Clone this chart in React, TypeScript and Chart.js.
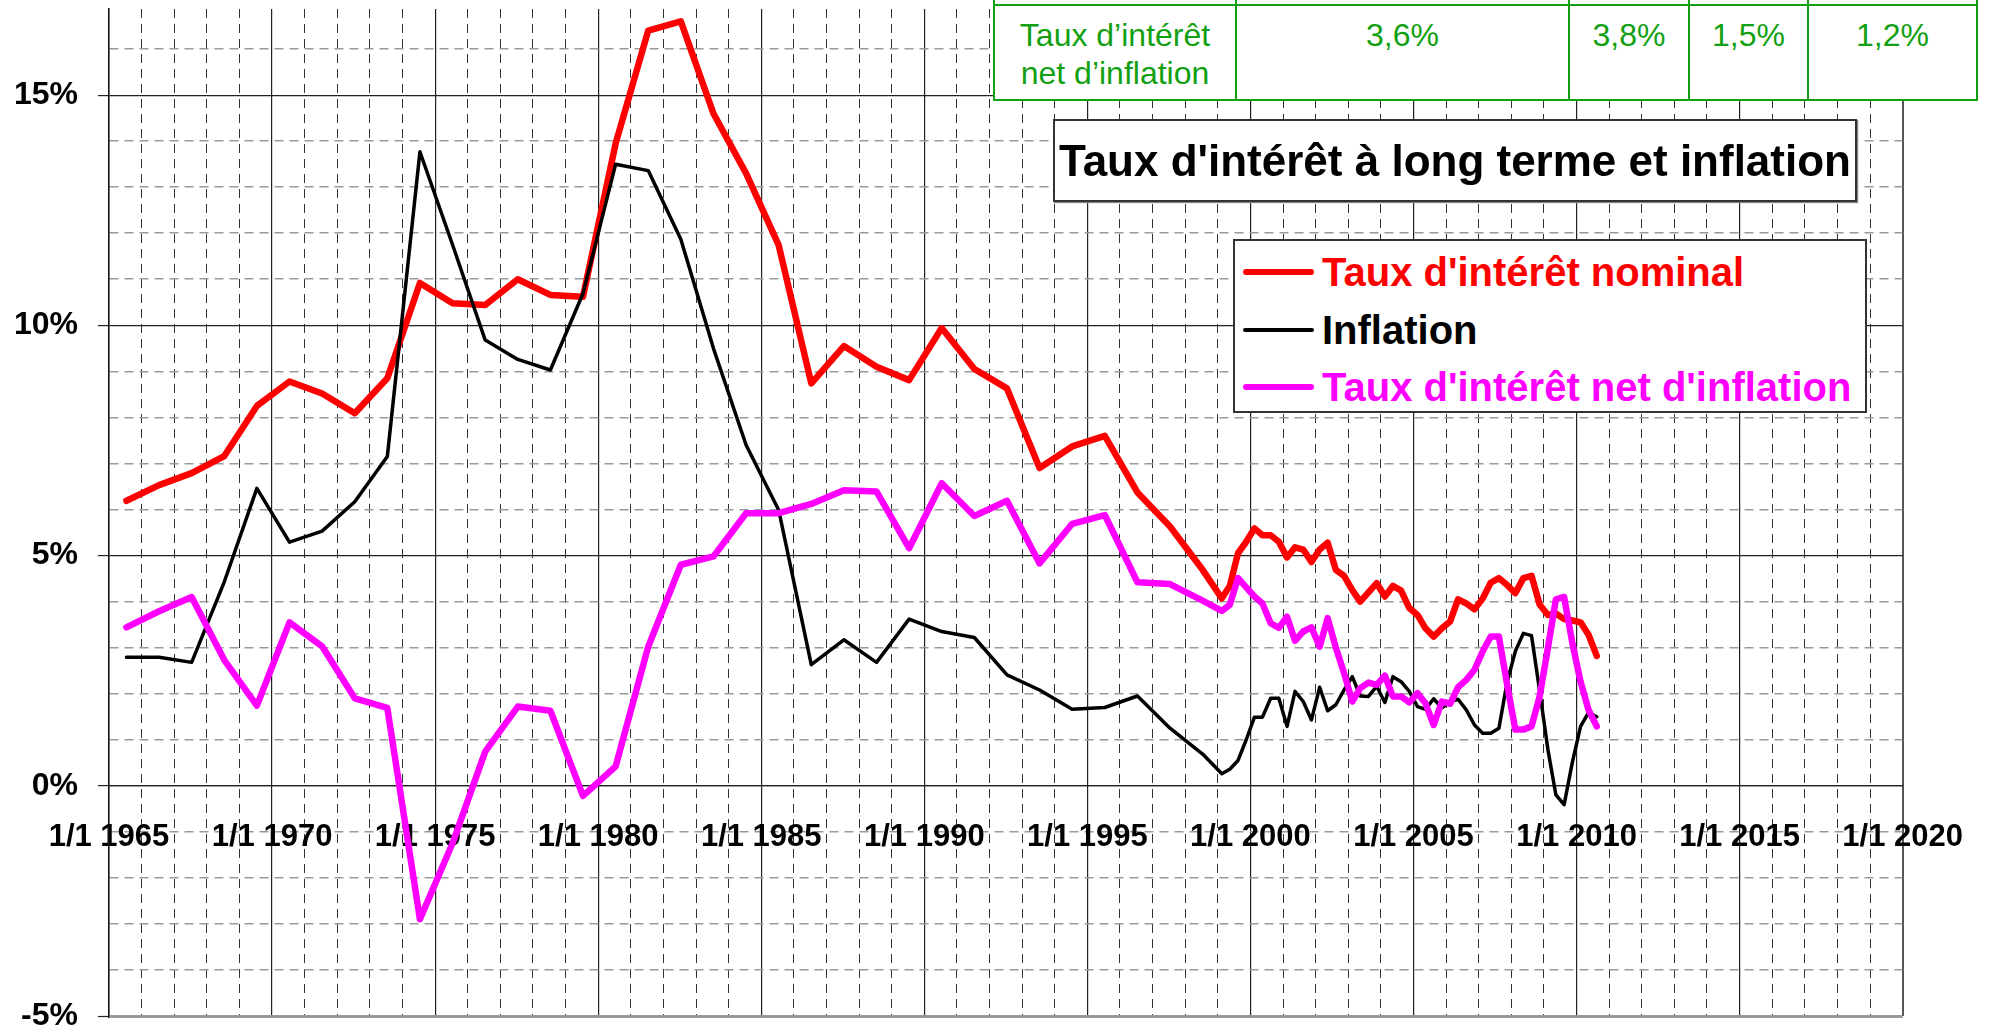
import React, { useEffect, useRef } from 'react';
import { Chart, registerables } from 'chart.js';

Chart.register(...registerables);

// ---- Data ----
const annualYears = [
  1965, 1966, 1967, 1968, 1969, 1970, 1971, 1972, 1973, 1974,
  1975, 1976, 1977, 1978, 1979, 1980, 1981, 1982, 1983, 1984,
  1985, 1986, 1987, 1988, 1989, 1990, 1991, 1992, 1993, 1994,
  1995, 1996, 1997, 1998,
];
const quarterYears = [1999, 2000, 2001, 2002, 2003, 2004, 2005, 2006, 2007, 2008, 2009, 2010];
const quarterMonths = [2, 5, 8, 11]; // mid-quarter points (15th of the month)

const nominalAnnual = [
  6.19, 6.53, 6.79, 7.16, 8.25, 8.78, 8.52, 8.09, 8.85, 10.92,
  10.48, 10.44, 11.0, 10.66, 10.62, 13.95, 16.4, 16.6, 14.6, 13.3,
  11.74, 8.74, 9.55, 9.1, 8.81, 9.94, 9.05, 8.63, 6.9, 7.37,
  7.6, 6.37, 5.63, 4.69,
];
const inflationAnnual = [
  2.79, 2.79, 2.68, 4.43, 6.46, 5.29, 5.53, 6.17, 7.15, 13.77,
  11.75, 9.68, 9.26, 9.03, 10.69, 13.5, 13.36, 11.87, 9.5, 7.4,
  5.99, 2.63, 3.17, 2.68, 3.62, 3.35, 3.22, 2.41, 2.08, 1.66,
  1.7, 1.95, 1.25, 0.69,
];
const netAnnual = [
  3.44, 3.79, 4.1, 2.73, 1.74, 3.55, 3.03, 1.9, 1.69, -2.9,
  -1.25, 0.74, 1.72, 1.63, -0.22, 0.42, 3.02, 4.8, 4.98, 5.92,
  5.92, 6.12, 6.42, 6.39, 5.16, 6.57, 5.86, 6.19, 4.83, 5.69,
  5.88, 4.42, 4.38, 4.02,
];

const nominalQuarterly = [
  4.07, 4.34, 5.05, 5.3,
  5.59, 5.44, 5.44, 5.3,
  4.96, 5.18, 5.13, 4.86,
  5.13, 5.28, 4.69, 4.56,
  4.25, 4.0, 4.2, 4.4,
  4.11, 4.34, 4.24, 3.86,
  3.71, 3.42, 3.24, 3.42,
  3.57, 4.05, 3.96, 3.83,
  4.07, 4.41, 4.51, 4.36,
  4.18, 4.51, 4.56, 3.93,
  3.71, 3.74, 3.62, 3.59,
  3.55, 3.28, 2.82,
];
const inflationQuarterly = [
  0.26, 0.36, 0.55, 1.0,
  1.49, 1.49, 1.9, 1.9,
  1.29, 2.05, 1.83, 1.43,
  2.14, 1.63, 1.76, 2.08,
  2.37, 1.95, 1.94, 2.16,
  1.81, 2.37, 2.26, 2.05,
  1.72, 1.66, 1.89, 1.69,
  1.83, 1.88, 1.65, 1.32,
  1.14, 1.14, 1.25, 2.25,
  2.92, 3.31, 3.26, 2.05,
  0.78, -0.2, -0.41, 0.51,
  1.29, 1.59, 1.5,
];
const netQuarterly = [
  3.8, 3.93, 4.51, 4.31,
  4.11, 3.96, 3.53, 3.43,
  3.67, 3.15, 3.35, 3.44,
  3.02, 3.64, 3.0, 2.45,
  1.83, 2.12, 2.24, 2.19,
  2.39, 1.94, 1.94, 1.81,
  2.01, 1.79, 1.32, 1.83,
  1.78, 2.14, 2.3, 2.52,
  2.92, 3.24, 3.24, 2.2,
  1.22, 1.22, 1.29, 1.95,
  3.0, 4.05, 4.1, 3.1,
  2.26, 1.65, 1.29,
];

const xMin = 1965;
const xMax = 2020;
const yMin = -5;
const yMax = 16.87;

const chartTitle = "Taux d'intérêt à long terme et inflation";
const seriesNames = ["Taux d'intérêt nominal", 'Inflation', "Taux d'intérêt net d'inflation"];
const seriesColors = ['#ff0000', '#000000', '#ff00ff'];
const tableLabelLines = ['Taux d’intérêt', 'net d’inflation'];
const tableValues = ['3,6%', '3,8%', '1,5%', '1,2%'];

// ---- helpers ----
const decYear = (y: number, m: number, d: number) => {
  const s = Date.UTC(y, 0, 1);
  const e = Date.UTC(y + 1, 0, 1);
  return y + (Date.UTC(y, m - 1, d) - s) / (e - s);
};
const annualX = annualYears.map((y) => decYear(y, 7, 15));
const quarterX: number[] = [];
quarterYears.forEach((y) => quarterMonths.forEach((m) => quarterX.push(decYear(y, m, 15))));
const allX = annualX.concat(quarterX.slice(0, nominalQuarterly.length));

const toPoints = (a: number[], q: number[]) => a.concat(q).map((v, i) => ({ x: allX[i], y: v }));

const FONT = "'Liberation Sans', Arial, Helvetica, sans-serif";
const GREEN = '#12a012';

export default function App() {
  const ref = useRef<HTMLCanvasElement | null>(null);

  useEffect(() => {
    if (!ref.current) return;
    Chart.defaults.font.family = FONT;
    const isInt = (v: number) => Math.abs(v - Math.round(v)) < 1e-6;
    const chart = new Chart(ref.current, {
      type: 'line',
      data: {
        datasets: [
          {
            label: seriesNames[0],
            data: toPoints(nominalAnnual, nominalQuarterly),
            borderColor: seriesColors[0],
            borderWidth: 6.5,
            pointRadius: 0,
            tension: 0,
            borderJoinStyle: 'round',
            borderCapStyle: 'round',
            order: 3,
          },
          {
            label: seriesNames[1],
            data: toPoints(inflationAnnual, inflationQuarterly),
            borderColor: seriesColors[1],
            borderWidth: 3.5,
            pointRadius: 0,
            tension: 0,
            borderJoinStyle: 'round',
            borderCapStyle: 'round',
            order: 2,
          },
          {
            label: seriesNames[2],
            data: toPoints(netAnnual, netQuarterly),
            borderColor: seriesColors[2],
            borderWidth: 6.5,
            pointRadius: 0,
            tension: 0,
            borderJoinStyle: 'round',
            borderCapStyle: 'round',
            order: 1,
          },
        ],
      },
      options: {
        animation: false,
        responsive: false,
        devicePixelRatio: 1,
        layout: { padding: { left: 0, right: 82, top: 9, bottom: 11 } },
        plugins: { legend: { display: false }, tooltip: { enabled: false } },
        scales: {
          x: {
            type: 'linear',
            position: { y: 0 } as any,
            min: xMin,
            max: xMax,
            ticks: {
              stepSize: 1,
              autoSkip: false,
              maxRotation: 0,
              minRotation: 0,
              padding: 33,
              color: '#000',
              font: { size: 31, weight: 'bold', family: FONT },
              callback: (v: any) => (isInt(v) && Math.round(v) % 5 === 0 ? `1/1 ${Math.round(v)}` : ''),
            },
            grid: {
              drawTicks: false,
              color: (c: any) => {
                const v = c.tick?.value;
                if (v === undefined) return '#222';
                if (Math.round(v) === xMax) return '#555';
                return Math.round(v) % 5 === 0 ? '#222' : '#333';
              },
              lineWidth: (c: any) => {
                const v = c.tick?.value;
                if (v === undefined) return 1;
                if (Math.round(v) === xMax) return 2;
                return Math.round(v) % 5 === 0 ? 1.2 : 1;
              },
            },
            border: {
              display: true,
              color: '#222',
              width: 1.2,
              dash: (c: any) => {
                const v = c.tick?.value;
                if (v === undefined) return [];
                return Math.round(v) % 5 === 0 ? [] : [9, 6];
              },
            } as any,
          },
          y: {
            type: 'linear',
            min: yMin,
            max: yMax,
            afterFit: (s: any) => {
              s.width = 109;
              s.paddingTop = 0;
              s.paddingBottom = 0;
            },
            ticks: {
              stepSize: 1,
              padding: 20,
              color: '#000',
              font: { size: 32, weight: 'bold', family: FONT },
              callback: (v: any) => (isInt(v) && Math.round(v) % 5 === 0 ? `${Math.round(v)}%` : ''),
            },
            grid: {
              tickLength: 11,
              color: (c: any) => {
                const v = c.tick?.value;
                if (v === undefined) return '#222';
                if (!isInt(v)) return 'rgba(0,0,0,0)';
                if (Math.round(v) === yMin) return '#9a9a9a';
                return Math.round(v) % 5 === 0 ? '#222' : '#9a9a9a';
              },
              lineWidth: (c: any) => {
                const v = c.tick?.value;
                if (v === undefined) return 1;
                if (isInt(v) && Math.round(v) === yMin) return 3;
                return isInt(v) && Math.round(v) % 5 === 0 ? 1.2 : 1.6;
              },
              tickColor: (c: any) => {
                const v = c.tick?.value;
                return v !== undefined && isInt(v) && Math.round(v) % 5 === 0 ? '#222' : 'rgba(0,0,0,0)';
              },
              tickWidth: 1.2,
            },
            border: {
              display: true,
              color: '#111',
              width: 1.5,
              dash: (c: any) => {
                const v = c.tick?.value;
                if (v === undefined) return [];
                return isInt(v) && Math.round(v) % 5 === 0 ? [] : [9, 6];
              },
            } as any,
          },
        },
      },
    } as any);
    return () => chart.destroy();
  }, []);

  const tableLines = [994, 1236, 1569, 1689, 1808, 1977];

  return (
    <div
      style={{
        position: 'fixed',
        left: 0,
        top: 0,
        width: 1996,
        height: 1027,
        overflow: 'hidden',
        background: '#fff',
        fontFamily: FONT,
      }}
    >
      <canvas ref={ref} width={1996} height={1027} style={{ position: 'absolute', left: 0, top: 0 }} />

      {/* Table (partially visible at top) */}
      <div style={{ position: 'absolute', left: 993, top: 0, width: 985, height: 101, background: '#fff' }} />
      <div style={{ position: 'absolute', left: 993, top: 4, width: 985, height: 2, background: GREEN }} />
      <div style={{ position: 'absolute', left: 993, top: 99, width: 985, height: 2, background: GREEN }} />
      {tableLines.map((x) => (
        <div key={x} style={{ position: 'absolute', left: x - 1, top: 0, width: 2, height: 101, background: GREEN }} />
      ))}
      <div
        style={{
          position: 'absolute',
          left: tableLines[0] + 1,
          width: tableLines[1] - tableLines[0] - 2,
          top: 16,
          textAlign: 'center',
          color: GREEN,
          fontSize: 32,
          lineHeight: '38px',
        }}
      >
        {tableLabelLines.map((l) => (
          <div key={l}>{l}</div>
        ))}
      </div>
      {tableValues.map((v, i) => (
        <div
          key={i}
          style={{
            position: 'absolute',
            left: tableLines[i + 1] + 1,
            width: tableLines[i + 2] - tableLines[i + 1] - 2,
            top: 16,
            textAlign: 'center',
            color: GREEN,
            fontSize: 32,
            lineHeight: '38px',
          }}
        >
          {v}
        </div>
      ))}

      {/* Title box */}
      <div
        style={{
          position: 'absolute',
          left: 1053,
          top: 119,
          width: 804,
          height: 83,
          boxSizing: 'border-box',
          border: '2px solid #333',
          boxShadow: '1px 1px 1px #888',
          background: '#fff',
          display: 'flex',
          alignItems: 'center',
          justifyContent: 'center',
          fontWeight: 'bold',
          fontSize: 44,
          color: '#000',
          whiteSpace: 'nowrap',
        }}
      >
        {chartTitle}
      </div>

      {/* Legend box */}
      <div
        style={{
          position: 'absolute',
          left: 1233,
          top: 239,
          width: 634,
          height: 174,
          boxSizing: 'border-box',
          border: '2px solid #333',
          background: '#fff',
        }}
      />
      {seriesNames.map((name, i) => {
        const cy = [272, 330, 387][i];
        const th = [6, 4, 6][i];
        return (
          <React.Fragment key={name}>
            <div
              style={{
                position: 'absolute',
                left: 1243,
                top: cy - th / 2,
                width: 71,
                height: th,
                borderRadius: th / 2,
                background: seriesColors[i],
              }}
            />
            <div
              style={{
                position: 'absolute',
                left: 1322,
                top: cy - 24,
                height: 48,
                lineHeight: '48px',
                fontSize: 40,
                fontWeight: 'bold',
                color: seriesColors[i],
                whiteSpace: 'nowrap',
              }}
            >
              {name}
            </div>
          </React.Fragment>
        );
      })}
    </div>
  );
}
